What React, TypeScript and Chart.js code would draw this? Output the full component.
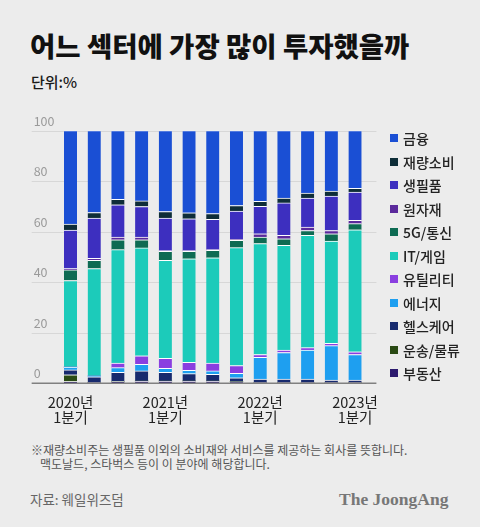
import React, { useEffect, useRef } from 'react';
import { Chart, registerables } from 'chart.js';

Chart.register(...registerables);

const categories = [
  '2020년 1분기', '2020년 2분기', '2020년 3분기', '2020년 4분기',
  '2021년 1분기', '2021년 2분기', '2021년 3분기', '2021년 4분기',
  '2022년 1분기', '2022년 2분기', '2022년 3분기', '2022년 4분기',
  '2023년 1분기',
];

// stacked from bottom to top
const realEstate = [0.7, 0.3, 0.7, 0.9, 0.9, 0.9, 0.9, 0.6, 0.3, 0.3, 0.3, 0.3, 0.3];
const transport = [2.7, 0, 0, 0, 0, 0, 0, 0, 0, 0, 0, 0, 0];
const healthcare = [1.9, 2.3, 3.6, 4.0, 3.4, 2.9, 2.7, 1.6, 1.4, 1.4, 1.4, 1.0, 1.0];
const energy = [1.1, 0.3, 1.9, 2.6, 1.6, 1.3, 1.3, 1.7, 8.6, 10.5, 11.5, 13.6, 10.1];
const utilities = [0, 0, 1.8, 3.4, 4.0, 3.2, 3.1, 3.1, 1.1, 1.0, 0.9, 0.9, 1.1];
const itGame = [34.3, 42.5, 44.9, 42.7, 38.8, 41.0, 41.7, 46.7, 43.9, 41.4, 44.5, 40.5, 48.3];
const telecom5g = [4.2, 3.3, 3.9, 3.2, 3.5, 2.9, 2.9, 2.9, 2.6, 2.6, 1.9, 2.9, 2.4];
const materials = [0.5, 0.8, 1.1, 1.1, 0.3, 0.3, 0.3, 0.4, 1.3, 1.4, 1.3, 1.3, 1.3];
const staples = [15.3, 15.9, 12.8, 12.1, 12.9, 12.6, 12.0, 11.2, 10.9, 12.8, 11.5, 13.6, 11.2];
const discretionary = [2.3, 2.2, 2.1, 2.2, 2.6, 2.4, 2.3, 2.2, 1.9, 1.9, 2.0, 2.0, 1.5];
const finance = [37.0, 32.4, 27.2, 27.8, 32.0, 32.5, 32.8, 29.6, 28.0, 26.7, 24.7, 23.9, 22.8];

const seriesNames = ['부동산', '운송/물류', '헬스케어', '에너지', '유틸리티', 'IT/게임', '5G/통신', '원자재', '생필품', '재량소비', '금융'];
const seriesValues = [realEstate, transport, healthcare, energy, utilities, itGame, telecom5g, materials, staples, discretionary, finance];
const seriesColors = ['#2c1a6e', '#2a4a14', '#172a6e', '#1e9ff0', '#8a3fe0', '#1ccbba', '#0e6b53', '#5b2a9c', '#3d2fbf', '#0e2d38', '#1a4fd4'];

const yTicks = [0, 20, 40, 60, 80, 100];

const FONT = '"Noto Sans CJK KR", "Noto Sans", sans-serif';

const gridPlugin = {
  id: 'customGrid',
  beforeDatasetsDraw(chart: any) {
    const { ctx, chartArea, scales } = chart;
    const y = scales.y;
    const left = chartArea.left - 27;
    const right = chartArea.right + 9.5;
    ctx.save();
    yTicks.forEach((v) => {
      const py = Math.round(y.getPixelForValue(v)) + 0.5;
      if (v !== 0) {
        ctx.beginPath();
        ctx.strokeStyle = '#d7d7d7';
        ctx.lineWidth = 1;
        ctx.moveTo(left, py);
        ctx.lineTo(right, py);
        ctx.stroke();
      }
      ctx.fillStyle = '#9a9a9a';
      ctx.font = `12.5px ${FONT}`;
      ctx.textBaseline = 'middle';
      ctx.textAlign = 'left';
      ctx.fillText(String(v), left + 2, py - 10.5);
    });
    ctx.restore();
  },
  afterDatasetsDraw(chart: any) {
    const { ctx, chartArea, scales } = chart;
    const py = scales.y.getPixelForValue(0);
    ctx.save();
    ctx.beginPath();
    ctx.strokeStyle = '#808080';
    ctx.lineWidth = 1.4;
    ctx.moveTo(chartArea.left - 27, py);
    ctx.lineTo(chartArea.right + 9.5, py);
    ctx.stroke();
    ctx.restore();
  },
};

export default function App() {
  const ref = useRef<HTMLCanvasElement | null>(null);

  useEffect(() => {
    document.body.style.margin = '0';
    document.body.style.background = '#ececec';
    if (!ref.current) return;
    const chart = new Chart(ref.current, {
      type: 'bar',
      data: {
        labels: categories,
        datasets: seriesNames.map((name, i) => ({
          label: name,
          data: seriesValues[i],
          backgroundColor: seriesColors[i],
          borderColor: '#ffffff',
          borderWidth: { top: 1, right: 0, bottom: 0, left: 0 },
          borderSkipped: false,
          barThickness: 13,
        })),
      },
      options: {
        animation: false,
        responsive: false,
        maintainAspectRatio: false,
        devicePixelRatio: 1,
        layout: { padding: { left: 58.65, right: 113.1, top: 130.7, bottom: 0 } },
        plugins: { legend: { display: false }, tooltip: { enabled: false } },
        scales: {
          x: {
            stacked: true,
            grid: { display: false, drawTicks: false },
            border: { display: false },
            afterFit: (s: any) => { s.height = 56.7; },
            ticks: {
              autoSkip: false,
              maxRotation: 0,
              padding: 12,
              color: '#222222',
              font: { family: FONT, size: 14.5, lineHeight: 1.0 },
              callback: (_v: any, idx: number) => (idx % 4 === 0 ? categories[idx].split(' ') : ''),
            },
          },
          y: {
            stacked: true,
            min: 0,
            max: 100,
            grid: { display: false, drawTicks: false },
            border: { display: false },
            ticks: { display: false, stepSize: 20 },
            afterFit: (s: any) => { s.width = 0; },
          },
        },
      },
      plugins: [gridPlugin],
    });
    return () => chart.destroy();
  }, []);

  const legendItems = seriesNames.map((n, i) => ({ name: n, color: seriesColors[i] })).reverse();

  return (
    <div style={{ position: 'relative', width: 480, height: 527, background: '#ececec', overflow: 'hidden', fontFamily: FONT }}>
      <div style={{ position: 'absolute', left: 30, top: 26, fontSize: 27.5, fontWeight: 900, color: '#111', letterSpacing: 0, lineHeight: '38px', whiteSpace: 'nowrap' }}>
        어느 섹터에 가장 많이 투자했을까
      </div>
      <div style={{ position: 'absolute', left: 31, top: 72, fontSize: 15, fontWeight: 500, color: '#1a1a1a', lineHeight: '20px' }}>
        단위:%
      </div>
      <canvas ref={ref} width={480} height={440} style={{ position: 'absolute', left: 0, top: 0, width: 480, height: 440 }} />
      <div style={{ position: 'absolute', left: 390, top: 126 }}>
        {legendItems.map((it, i) => (
          <div key={it.name} style={{ position: 'absolute', left: 0, top: i * 23.5, height: 24, display: 'flex', alignItems: 'center', whiteSpace: 'nowrap' }}>
            <span style={{ display: 'inline-block', width: 8, height: 8, background: it.color, marginRight: 5 }} />
            <span style={{ fontSize: 14, fontWeight: 500, color: '#222', lineHeight: '24px' }}>{it.name}</span>
          </div>
        ))}
      </div>
      <div style={{ position: 'absolute', left: 31, top: 443, fontSize: 12, color: '#555', lineHeight: '13.5px', whiteSpace: 'nowrap' }}>
        ※재량소비주는 생필품 이외의 소비재와 서비스를 제공하는 회사를 뜻합니다.
        <br />
        <span style={{ paddingLeft: 9 }}>맥도날드, 스타벅스 등이 이 분야에 해당합니다.</span>
      </div>
      <div style={{ position: 'absolute', left: 30, top: 490, fontSize: 13.5, color: '#666', lineHeight: '18px', whiteSpace: 'nowrap' }}>
        자료: 웨일위즈덤
      </div>
      <div style={{ position: 'absolute', left: 339, top: 487, fontSize: 17.5, fontWeight: 700, color: '#777', fontFamily: '"Liberation Serif", "DejaVu Serif", serif', lineHeight: '24px', whiteSpace: 'nowrap' }}>
        The JoongAng
      </div>
    </div>
  );
}
